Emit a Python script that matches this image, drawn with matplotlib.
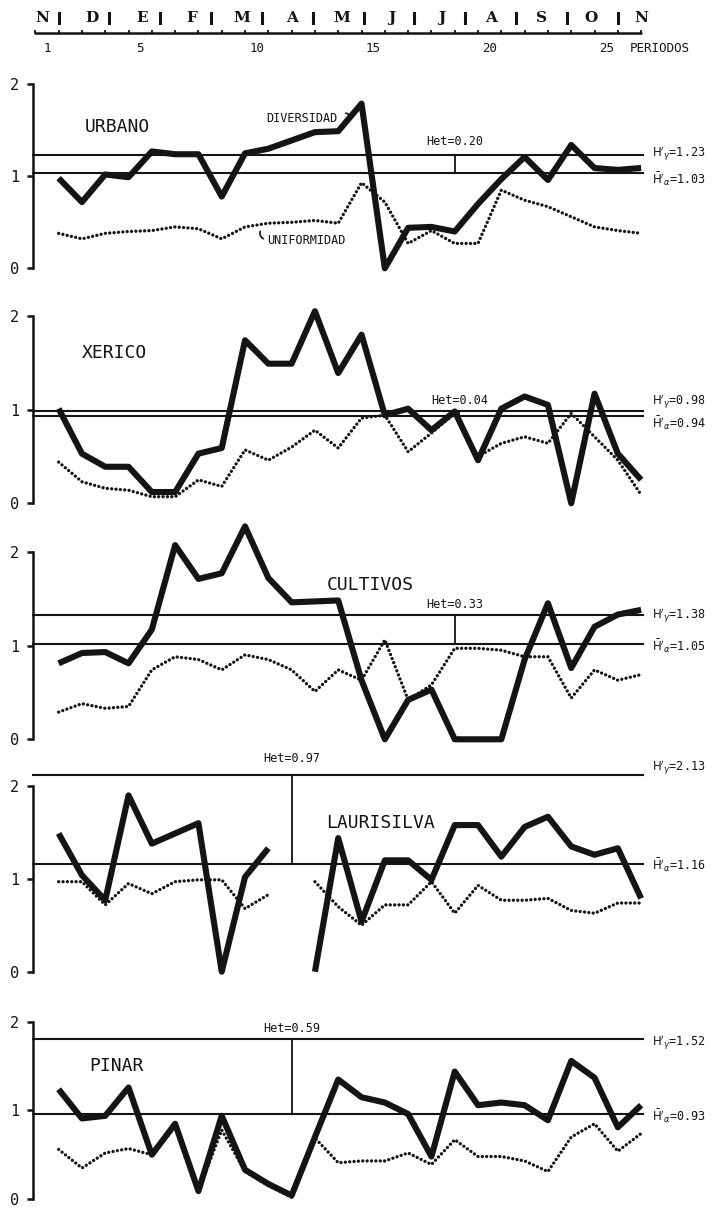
import numpy as np
import matplotlib
matplotlib.use("Agg")
import matplotlib.pyplot as plt

plt.rcParams['font.family'] = ['DejaVu Sans Mono', 'DejaVu Sans']
plt.rcParams['mathtext.fontset'] = 'dejavusans'

# ---------------- data ----------------
periods = list(range(1, 27))
months = ["N", "D", "E", "F", "M", "A", "M", "J", "J", "A", "S", "O", "N"]
period_labels = [1, 5, 10, 15, 20, 25]

panels = ["URBANO", "XERICO", "CULTIVOS", "LAURISILVA", "PINAR"]

urbano_div = [0.98, 0.72, 1.02, 0.99, 1.27, 1.24, 1.24, 0.78, 1.25, 1.30, 1.39, 1.48, 1.49,
              1.79, 0.00, 0.44, 0.45, 0.40, 0.70, 0.97, 1.21, 0.96, 1.34, 1.09, 1.07, 1.09]
urbano_uni = [0.38, 0.32, 0.38, 0.40, 0.41, 0.45, 0.43, 0.32, 0.45, 0.49, 0.50, 0.52, 0.49,
              0.93, 0.72, 0.27, 0.41, 0.27, 0.27, 0.85, 0.74, 0.67, 0.56, 0.45, 0.41, 0.38]

xerico_div = [1.01, 0.53, 0.39, 0.39, 0.12, 0.12, 0.53, 0.59, 1.74, 1.49, 1.49, 2.05, 1.39,
              1.80, 0.94, 1.01, 0.78, 0.98, 0.46, 1.01, 1.14, 1.05, 0.00, 1.17, 0.53, 0.25]
xerico_uni = [0.44, 0.23, 0.16, 0.14, 0.07, 0.07, 0.25, 0.18, 0.57, 0.46, 0.60, 0.78, 0.59,
              0.91, 0.94, 0.55, 0.75, 0.96, 0.50, 0.64, 0.71, 0.64, 0.96, 0.71, 0.46, 0.09]

cultivos_div = [0.81, 0.92, 0.93, 0.81, 1.17, 2.07, 1.71, 1.77, 2.27, 1.72, 1.46, 1.47, 1.48,
                0.63, 0.00, 0.42, 0.53, 0.00, 0.00, 0.00, 0.85, 1.45, 0.76, 1.20, 1.33, 1.38]
cultivos_uni = [0.29, 0.38, 0.33, 0.35, 0.74, 0.88, 0.85, 0.74, 0.90, 0.85, 0.74, 0.51, 0.74,
                0.63, 1.06, 0.42, 0.58, 0.97, 0.97, 0.95, 0.88, 0.88, 0.44, 0.74, 0.63, 0.69]

laurisilva_div = [1.49, 1.04, 0.77, 1.90, 1.38, 1.49, 1.60, 0.00, 1.02, 1.33, np.nan, 0.00, 1.44,
                  0.54, 1.20, 1.20, 0.99, 1.58, 1.58, 1.24, 1.56, 1.67, 1.35, 1.26, 1.33, 0.79]
laurisilva_uni = [0.97, 0.97, 0.72, 0.95, 0.84, 0.97, 0.99, 0.99, 0.68, 0.83, np.nan, 0.97, 0.70,
                  0.50, 0.72, 0.72, 0.97, 0.63, 0.93, 0.77, 0.77, 0.79, 0.66, 0.63, 0.74, 0.74]

pinar_div = [1.24, 0.91, 0.94, 1.26, 0.50, 0.85, 0.09, 0.94, 0.33, 0.17, 0.04, 0.70, 1.35,
             1.15, 1.09, 0.96, 0.48, 1.44, 1.06, 1.09, 1.06, 0.89, 1.56, 1.37, 0.81, 1.06]
pinar_uni = [0.56, 0.35, 0.52, 0.57, 0.50, 0.81, 0.09, 0.78, 0.31, 0.15, 0.02, 0.69, 0.41,
             0.43, 0.43, 0.52, 0.39, 0.67, 0.48, 0.48, 0.43, 0.31, 0.70, 0.85, 0.54, 0.74]

diversidad = [urbano_div, xerico_div, cultivos_div, laurisilva_div, pinar_div]
uniformidad = [urbano_uni, xerico_uni, cultivos_uni, laurisilva_uni, pinar_uni]

# reference lines as drawn in the picture, and their printed values
h_gamma_line = [1.23, 0.98, 1.32, 2.12, 1.81]
h_alpha_line = [1.04, 0.93, 1.02, 1.16, 0.96]
h_gamma_text = ["1.23", "0.98", "1.38", "2.13", "1.52"]
h_alpha_text = ["1.03", "0.94", "1.05", "1.16", "0.93"]
het_text = ["0.20", "0.04", "0.33", "0.97", "0.59"]
het_period = [18, 18.2, 18, 11, 11]

# ---------------- layout (pixels) ----------------
W, H = 712, 1208
fig = plt.figure(figsize=(W / 100, H / 100), dpi=100)
fig.patch.set_facecolor("white")

x_left_px = 33.0
px_per_period = 23.3
x_lo, x_hi = -0.1, 26.45
ax_w_px = (x_hi - x_lo) * px_per_period

zero_px = [268.3, 503.3, 739.3, 971.7, 1199.0]
unit_px = [92.0, 93.7, 93.8, 92.8, 88.5]
v_lo, v_hi = -0.1, 2.45

label_pos = [(2.1, 1.54), (2.0, 1.60), (12.5, 1.64), (12.5, 1.60), (2.3, 1.50)]
gamma_lbl_off = [0.02, 0.10, 0.0, 0.08, -0.05]
alpha_lbl_off = [-0.07, -0.08, -0.03, -0.01, -0.03]
het_off = [0.15, 0.12, 0.12, 0.18, 0.12]

INK = "#141414"

for i, name in enumerate(panels):
    y0, u = zero_px[i], unit_px[i]
    top_px = y0 - v_hi * u
    bot_px = y0 - v_lo * u
    ax = fig.add_axes([x_left_px / W, 1 - bot_px / H, ax_w_px / W, (bot_px - top_px) / H])
    ax.set_xlim(x_lo, x_hi)
    ax.set_ylim(v_lo, v_hi)
    ax.patch.set_alpha(0)
    for s in ["top", "right", "bottom"]:
        ax.spines[s].set_visible(False)
    ax.spines["left"].set_bounds(0, 2)
    ax.spines["left"].set_linewidth(1.8)
    ax.spines["left"].set_color(INK)
    ax.set_xticks([])
    ax.set_yticks([0, 1, 2])
    ax.set_yticklabels(["0", "1", "2"], fontsize=11, color=INK)
    ax.tick_params(axis="y", direction="out", length=4, width=1.8, pad=6, colors=INK)

    # reference lines
    ax.plot([x_lo, 26.1], [h_gamma_line[i]] * 2, color=INK, lw=1.5, clip_on=False)
    ax.plot([x_lo, 26.1], [h_alpha_line[i]] * 2, color=INK, lw=1.5, clip_on=False)
    ax.plot([het_period[i]] * 2, [h_alpha_line[i], h_gamma_line[i]], color=INK, lw=1.3)
    ax.text(het_period[i], h_gamma_line[i] + het_off[i], "Het=" + het_text[i],
            ha="center", va="center", fontsize=8.5, color=INK)
    ax.text(26.45, h_gamma_line[i] + gamma_lbl_off[i],
            r"$\mathrm{H}'_{\gamma}$=" + h_gamma_text[i],
            ha="left", va="center", fontsize=8.5, color=INK, clip_on=False)
    ax.text(26.45, h_alpha_line[i] + alpha_lbl_off[i],
            r"$\bar{\mathrm{H}}'_{\alpha}$=" + h_alpha_text[i],
            ha="left", va="center", fontsize=8.5, color=INK, clip_on=False)

    # series
    ax.plot(periods, uniformidad[i], color=INK, lw=2.4,
            linestyle=(0, (0.01, 1.3)), dash_capstyle="round", clip_on=False)
    ax.plot(periods, diversidad[i], color=INK, lw=4.4,
            solid_joinstyle="round", solid_capstyle="butt", clip_on=False)

    lx, ly = label_pos[i]
    ax.text(lx, ly, name, ha="left", va="center", fontsize=13, color=INK)

    if i == 0:
        ax.text(9.9, 1.63, "DIVERSIDAD", ha="left", va="center", fontsize=8.5, color=INK)
        ax.annotate("", xy=(13.55, 1.62), xytext=(13.2, 1.68),
                    arrowprops=dict(arrowstyle="-", color=INK, lw=1.2,
                                    connectionstyle="arc3,rad=-0.6"))
        ax.text(9.95, 0.30, "UNIFORMIDAD", ha="left", va="center", fontsize=8.5, color=INK)
        ax.annotate("", xy=(9.7, 0.43), xytext=(9.9, 0.31),
                    arrowprops=dict(arrowstyle="-", color=INK, lw=1.2,
                                    connectionstyle="arc3,rad=-0.6"))

# ---------------- header ruler ----------------
hax = fig.add_axes([x_left_px / W, 1 - 62 / H, ax_w_px / W, 62 / H])
hax.set_xlim(x_lo, x_hi)
hax.set_ylim(62, 0)
hax.axis("off")
ruler_y = 33
hax.plot([0, 26], [ruler_y, ruler_y], color=INK, lw=1.8, solid_capstyle="round")
hax.vlines(np.arange(0, 27), ruler_y - 3.5, ruler_y, color=INK, lw=1.3)
n_m = len(months)
for j, m in enumerate(months):
    xm = 0.3 + j * (25.7 / (n_m - 1))
    hax.text(xm, 18, m, ha="center", va="center", fontsize=11,
             fontweight="bold", family="DejaVu Serif", color=INK)
    if j < n_m - 1:
        xb = 1.0 + j * (24.0 / (n_m - 2))
        hax.plot([xb, xb], [13, 23], color=INK, lw=2.2)
for p in period_labels:
    hax.text(p - 0.5, 48, str(p), ha="center", va="center", fontsize=9, color=INK)
hax.text(25.5, 48, "PERIODOS", ha="left", va="center", fontsize=9, color=INK)

fig.savefig("out.png", dpi=100, facecolor="white")
